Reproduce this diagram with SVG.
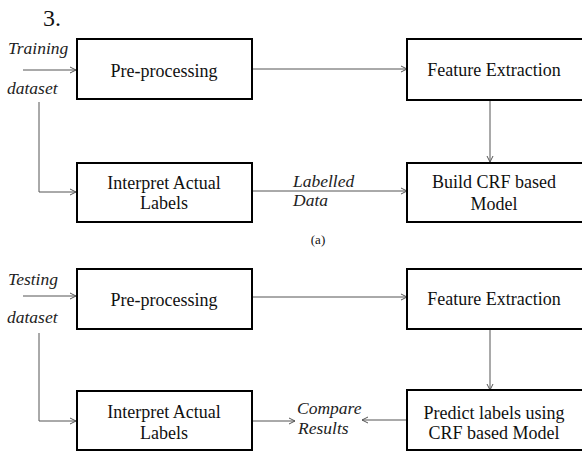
<svg xmlns="http://www.w3.org/2000/svg" width="582" height="452" viewBox="0 0 582 452">
<defs>
<marker id="arr" markerWidth="8" markerHeight="8" refX="7" refY="4" orient="auto" markerUnits="userSpaceOnUse">
<path d="M1,1 L7,4 L1,7" fill="none" stroke="#555" stroke-width="1"/>
</marker>
<style>
.box{fill:#fff;stroke:#000;stroke-width:2}
.t{font-family:'Liberation Serif','Times New Roman','DejaVu Serif',serif;font-size:18px;fill:#111;text-anchor:middle}
.i{font-family:'Liberation Serif','Times New Roman','DejaVu Serif',serif;font-size:17.5px;font-style:italic;fill:#222}
.c{fill:none;stroke:#555;stroke-width:1}
.n{font-family:'Liberation Serif','Times New Roman','DejaVu Serif',serif;fill:#111}
</style>
</defs>
<rect width="582" height="452" fill="#fff"/>
<text class="n" x="43" y="26" font-size="24">3.</text>
<text class="i" x="8" y="54">Training</text>
<text class="i" x="7" y="94">dataset</text>
<text class="i" x="8" y="285">Testing</text>
<text class="i" x="7" y="323">dataset</text>
<text class="i" x="293" y="187">Labelled</text>
<text class="i" x="293" y="206">Data</text>
<text class="n" x="318" y="244" font-size="13" text-anchor="middle">(a)</text>
<text class="i" x="297" y="414">Compare</text>
<text class="i" x="298" y="434">Results</text>
<g id="connectors">
<path class="c" d="M23,70 H76" marker-end="url(#arr)"/>
<path class="c" d="M39,102 V192 H76" marker-end="url(#arr)"/>
<path class="c" d="M252,69 H407" marker-end="url(#arr)"/>
<path class="c" d="M490,100 V162" marker-end="url(#arr)"/>
<path class="c" d="M252,191 H407" marker-end="url(#arr)"/>
<path class="c" d="M23,296 H76" marker-end="url(#arr)"/>
<path class="c" d="M39,333 V421 H76" marker-end="url(#arr)"/>
<path class="c" d="M252,297 H407" marker-end="url(#arr)"/>
<path class="c" d="M490,329 V390" marker-end="url(#arr)"/>
<path class="c" d="M252,421 H295" marker-end="url(#arr)"/>
<path class="c" d="M407,420 H362" marker-end="url(#arr)"/>
</g>
<g id="pre1"><rect class="box" x="77" y="39" width="175" height="60"/><text class="t" x="164" y="77">Pre-processing</text></g>
<g id="feat1"><rect class="box" x="407" y="39" width="180" height="61"/><text class="t" x="494" y="76">Feature Extraction</text></g>
<g id="interp1"><rect class="box" x="77" y="163" width="175" height="59"/><text class="t" x="164" y="189">Interpret Actual</text><text class="t" x="164" y="209">Labels</text></g>
<g id="build"><rect class="box" x="407" y="163" width="180" height="59"/><text class="t" x="494" y="188">Build CRF based</text><text class="t" x="494" y="210">Model</text></g>
<g id="pre2"><rect class="box" x="77" y="269" width="175" height="60"/><text class="t" x="164" y="306">Pre-processing</text></g>
<g id="feat2"><rect class="box" x="407" y="269" width="180" height="60"/><text class="t" x="494" y="305">Feature Extraction</text></g>
<g id="interp2"><rect class="box" x="77" y="391" width="175" height="59"/><text class="t" x="164" y="418">Interpret Actual</text><text class="t" x="164" y="439">Labels</text></g>
<g id="predict"><rect class="box" x="407" y="390" width="180" height="60"/><text class="t" x="494" y="419">Predict labels using</text><text class="t" x="494" y="439">CRF based Model</text></g>
</svg>
